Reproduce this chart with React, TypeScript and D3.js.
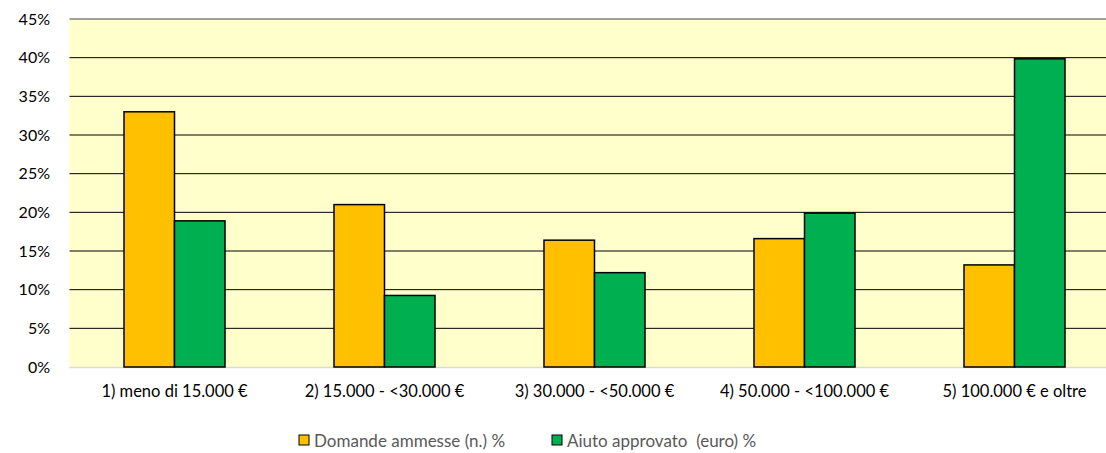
import React from "react";
import * as d3 from "d3";

const categories = [
  "1) meno di 15.000 €",
  "2) 15.000 - <30.000 €",
  "3) 30.000 - <50.000 €",
  "4) 50.000 - <100.000 €",
  "5) 100.000 € e oltre",
];
const domande = [33.0, 21.0, 16.4, 16.6, 13.2];
const aiuto = [18.9, 9.25, 12.2, 19.9, 39.85];
const seriesNames = ["Domande ammesse (n.) %", "Aiuto approvato  (euro) %"];
const colors = ["#FFC000", "#00B050"];
const yTicks = [0, 5, 10, 15, 20, 25, 30, 35, 40, 45];

export default function App() {
  const W = 1106, H = 453;
  const left = 69.5, right = 1119.5, top = 19, bottom = 367;
  const x = d3.scaleBand<string>().domain(categories).range([left, right]);
  const y = d3.scaleLinear().domain([0, 45]).range([bottom, top]);
  const bw = 50.5;
  const font = "Lato, 'Open Sans', sans-serif";
  return (
    <svg width={W} height={H} style={{ position: "absolute", left: 0, top: 0 }}>
      <rect x={0} y={0} width={W} height={H} fill="#fff" />
      <rect x={left} y={top} width={right - left} height={bottom - top} fill="#FFFFCC" />
      {yTicks.map((t) => (
        <g key={t}>
          {t > 0 && (
            <line x1={left} x2={right} y1={y(t)} y2={y(t)} stroke={t === 45 ? "#808080" : "#000"} strokeWidth={t === 45 ? 1.5 : 1} />
          )}
          <text x={50} y={y(t)} dy="0.35em" textAnchor="end" fontFamily={font} fontSize={16} fill="#000">
            {t}%
          </text>
        </g>
      ))}
      <line x1={left} x2={right} y1={bottom + 0.5} y2={bottom + 0.5} stroke="#D9D9D9" strokeWidth={1.5} />
      {categories.map((c, i) => {
        const cx = (x(c) as number) + x.bandwidth() / 2;
        return (
          <g key={c}>
            <rect x={cx - bw} y={y(domande[i])} width={bw} height={bottom - y(domande[i])} fill={colors[0]} stroke="#000" strokeWidth={1.5} />
            <rect x={cx} y={y(aiuto[i])} width={bw} height={bottom - y(aiuto[i])} fill={colors[1]} stroke="#000" strokeWidth={1.5} />
            <text x={cx} y={391} dy="0.35em" textAnchor="middle" fontFamily={font} fontSize={16.5} fill="#000">
              {c}
            </text>
          </g>
        );
      })}
      {seriesNames.map((s, i) => {
        const lx = i === 0 ? 299 : 552;
        return (
          <g key={s}>
            <rect x={lx} y={435} width={10} height={10} fill={colors[i]} stroke="#000" strokeWidth={1} />
            <text x={lx + 15} y={441} dy="0.35em" fontFamily={font} fontSize={17} fill="#595959" style={{ whiteSpace: "pre" }}>
              {s}
            </text>
          </g>
        );
      })}
    </svg>
  );
}
